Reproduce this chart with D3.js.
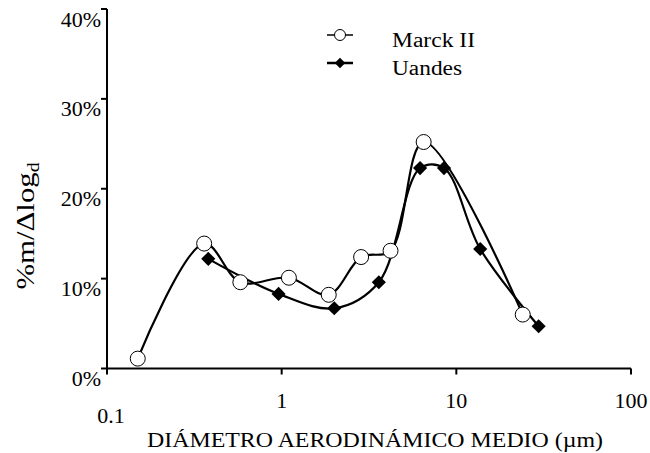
<!DOCTYPE html>
<html>
<head>
<meta charset="utf-8">
<script src="https://cdn.jsdelivr.net/npm/d3@7"></script>
<style>
  body { margin: 0; background: #fff; }
</style>
</head>
<body>
<div id="chart"></div>
<script>
// values
var marckX = [0.15, 0.36, 0.58, 1.1, 1.86, 2.85, 4.2, 6.5, 24];
var marckY = [1.1, 13.9, 9.6, 10.1, 8.2, 12.4, 13.1, 25.2, 6.0];
var uandesX = [0.38, 0.96, 2.0, 3.6, 6.2, 8.5, 13.7, 29.6];
var uandesY = [12.2, 8.3, 6.7, 9.6, 22.3, 22.3, 13.3, 4.7];
var xTicks = [0.1, 1, 10, 100];
var yTicks = [0, 10, 20, 30, 40];
var seriesNames = ["Marck II", "Uandes"];

var width = 650, height = 453;
var serif = "'Liberation Serif', 'Times New Roman', Times, serif";

var svg = d3.select("#chart").append("svg")
  .attr("width", width)
  .attr("height", height)
  .attr("font-family", serif);

svg.append("rect").attr("width", width).attr("height", height).attr("fill", "#fff");

var x = d3.scaleLog().domain([0.1, 100]).range([107, 631]);
var y = d3.scaleLinear().domain([0, 40]).range([368.5, 9]);

// axes
svg.append("line")
  .attr("x1", x(0.1)).attr("x2", x(100))
  .attr("y1", y(0)).attr("y2", y(0))
  .attr("stroke", "#000").attr("stroke-width", 2);
svg.append("line")
  .attr("x1", x(0.1)).attr("x2", x(0.1))
  .attr("y1", y(0) + 1).attr("y2", y(40))
  .attr("stroke", "#000").attr("stroke-width", 2);

svg.selectAll(".ytick").data(yTicks).enter().append("line")
  .attr("x1", x(0.1) - 6).attr("x2", x(0.1))
  .attr("y1", function(d) { return y(d); })
  .attr("y2", function(d) { return y(d); })
  .attr("stroke", "#000").attr("stroke-width", 2);

svg.selectAll(".ylab").data(yTicks).enter().append("text")
  .attr("x", 101)
  .attr("y", function(d) { return y(d) + 17.5; })
  .attr("text-anchor", "end")
  .attr("font-family", serif)
  .style("font-size", "22px")
  .text(function(d) { return d + "%"; });

svg.selectAll(".xtick").data(xTicks).enter().append("line")
  .attr("x1", function(d) { return x(d); })
  .attr("x2", function(d) { return x(d); })
  .attr("y1", y(0)).attr("y2", y(0) + 6)
  .attr("stroke", "#000").attr("stroke-width", 2);

svg.selectAll(".xlab").data(xTicks).enter().append("text")
  .attr("x", function(d, i) { return i == 0 ? x(d) + 4 : x(d); })
  .attr("y", function(d, i) { return i == 0 ? 423 : 408; })
  .attr("text-anchor", "middle")
  .attr("font-family", serif)
  .style("font-size", "22px")
  .text(function(d) { return d; });

// axis titles
svg.append("text")
  .attr("x", 375).attr("y", 447)
  .attr("text-anchor", "middle")
  .attr("textLength", 456).attr("lengthAdjust", "spacingAndGlyphs")
  .attr("font-family", serif)
  .style("font-size", "21px")
  .text("DIÁMETRO AERODINÁMICO MEDIO (µm)");

var yt = svg.append("text")
  .attr("transform", "translate(34,226) rotate(-90)")
  .attr("text-anchor", "middle")
  .attr("textLength", 127).attr("lengthAdjust", "spacingAndGlyphs")
  .attr("font-family", serif)
  .style("font-size", "25px");
yt.append("tspan").text("%m/Δlog");
yt.append("tspan").attr("dy", 5).style("font-size", "16px").text("d");

// series
var line = d3.line()
  .x(function(d) { return x(d[0]); })
  .y(function(d) { return y(d[1]); })
  .curve(d3.curveCatmullRom.alpha(0.5));

var marck = d3.zip(marckX, marckY);
var uandes = d3.zip(uandesX, uandesY);

svg.append("path").datum(uandes)
  .attr("d", line).attr("fill", "none")
  .attr("stroke", "#000").attr("stroke-width", 2.2);
svg.append("path").datum(marck)
  .attr("d", line).attr("fill", "none")
  .attr("stroke", "#000").attr("stroke-width", 2.2);

svg.selectAll(".dia").data(uandes).enter().append("path")
  .attr("d", d3.symbol().type(d3.symbolSquare).size(100))
  .attr("transform", function(d) { return "translate(" + x(d[0]) + "," + y(d[1]) + ") rotate(45)"; })
  .attr("fill", "#000");

svg.selectAll(".circ").data(marck).enter().append("circle")
  .attr("cx", function(d) { return x(d[0]); })
  .attr("cy", function(d) { return y(d[1]); })
  .attr("r", 7.5)
  .attr("fill", "#fff").attr("stroke", "#000").attr("stroke-width", 1);

// legend
var legY = [35, 63];
svg.selectAll(".legline").data(legY).enter().append("line")
  .attr("x1", 327).attr("x2", 353)
  .attr("y1", function(d) { return d; }).attr("y2", function(d) { return d; })
  .attr("stroke", "#000").attr("stroke-width", function(d, i) { return i == 0 ? 1.5 : 2.5; });
svg.append("circle")
  .attr("cx", 340).attr("cy", legY[0]).attr("r", 5.5)
  .attr("fill", "#fff").attr("stroke", "#000").attr("stroke-width", 1);
svg.append("path")
  .attr("d", d3.symbol().type(d3.symbolSquare).size(56))
  .attr("transform", "translate(340," + legY[1] + ") rotate(45)")
  .attr("fill", "#000");

svg.selectAll(".legtext").data(seriesNames).enter().append("text")
  .attr("x", 392)
  .attr("y", function(d, i) { return legY[i] + 12; })
  .attr("textLength", function(d, i) { return i == 0 ? 83 : 70; })
  .attr("lengthAdjust", "spacingAndGlyphs")
  .attr("font-family", serif)
  .style("font-size", "20px")
  .text(function(d) { return d; });
</script>
</body>
</html>
